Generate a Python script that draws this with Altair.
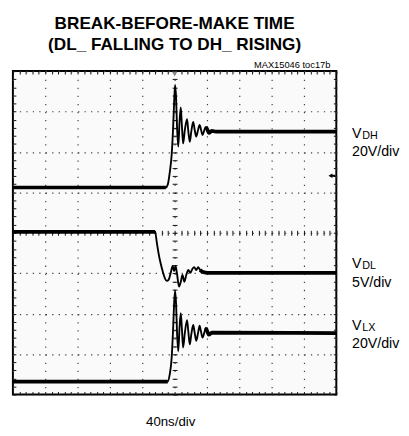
import altair as alt
import pandas as pd

# ---------------- data ----------------
title_lines = ["BREAK-BEFORE-MAKE TIME", "(DL_ FALLING TO DH_ RISING)"]
figure_tag = ["MAX15046 toc17b"]
time_scale = ["40ns/div"]

ch_main = ["V", "V", "V"]
ch_sub = ["DH", "DL", "LX"]
ch_scale = ["20V/div", "5V/div", "20V/div"]
ch_label_level = [6.35, 3.13, 1.60]   # divisions

trigger_time = [200]      # ns
trigger_level = [5.41]    # divisions

# time in ns (40 ns/div, 10 div), level in screen divisions (8 div)
vdh_t = [0, 189.1, 191.5, 193.9, 196.4, 198.2, 199.4, 200.6, 201.8, 203.0,
         204.5, 206.1, 207.6, 209.1, 210.5, 212.7, 215.4, 217.0, 218.8, 220.6,
         223.0, 224.8, 226.7, 229.1, 230.9, 232.7, 234.5, 237.0, 238.8, 240.6,
         242.4, 246.1, 250.9, 400]
vdh_v = [5.12, 5.12, 5.19, 5.48, 5.94, 6.62, 7.22, 7.66, 7.35, 6.62,
         6.13, 6.74, 7.10, 6.62, 6.21, 6.55, 6.81, 6.50, 6.25, 6.50,
         6.74, 6.55, 6.38, 6.55, 6.67, 6.55, 6.42, 6.55, 6.62, 6.55,
         6.47, 6.52, 6.50, 6.50]

vdl_t = [0, 175.8, 178.2, 180.6, 183.0, 185.5, 187.9, 190.3, 192.7, 195.2,
         197.6, 199.4, 201.2, 203.0, 205.5, 207.9, 209.7, 212.1, 214.5, 217.0,
         219.4, 221.8, 224.2, 226.7, 229.1, 231.5, 235.2, 241.2, 400]
vdl_v = [4.02, 4.02, 3.73, 3.44, 3.22, 3.03, 2.88, 2.81, 2.84, 3.01,
         3.18, 3.05, 3.18, 2.98, 2.67, 2.81, 2.96, 2.79, 2.96, 3.08,
         3.01, 3.10, 3.15, 3.08, 3.15, 3.08, 3.03, 3.01, 3.01]

vlx_t = [0, 191.5, 193.9, 196.4, 198.2, 199.4, 200.6, 201.8, 203.0, 204.5,
         206.1, 207.6, 209.1, 210.5, 212.7, 215.4, 217.0, 218.8, 220.6, 223.0,
         224.8, 226.7, 229.1, 230.9, 232.7, 234.5, 237.0, 238.8, 240.6, 242.4,
         246.1, 400]
vlx_v = [0.32, 0.32, 0.49, 0.92, 1.65, 2.25, 2.57, 2.25, 1.53, 1.07,
         1.65, 2.01, 1.60, 1.16, 1.53, 1.84, 1.55, 1.24, 1.48, 1.72,
         1.53, 1.33, 1.53, 1.70, 1.55, 1.41, 1.55, 1.65, 1.55, 1.48,
         1.53, 1.52]

# where each trace leaves its flat (noisy) level and where it settles again
edge_start = [189.1, 175.8, 191.5]
settle_start = [238.8, 231.5, 238.8]


def trace_df(t, v, name, t0, t1):
    seg = ["pre" if x <= t0 else ("post" if x >= t1 else "edge") for x in t]
    return pd.DataFrame({"t": t, "v": v, "ch": name, "i": list(range(len(t))),
                         "seg": seg})


dh = trace_df(vdh_t, vdh_v, "VDH", edge_start[0], settle_start[0])
dl = trace_df(vdl_t, vdl_v, "VDL", edge_start[1], settle_start[1])
lx = trace_df(vlx_t, vlx_v, "VLX", edge_start[2], settle_start[2])
flat = pd.concat([dh, dl, lx])
flat = flat[flat["seg"] != "edge"]

labels = pd.DataFrame({"main": ch_main, "sub": ch_sub, "scale": ch_scale,
                       "lvl": ch_label_level})

# ---------------- scales / axes ----------------
W, H = 330, 330
xs = alt.Scale(domain=[0, 400], nice=False, zero=False)
ys = alt.Scale(domain=[0, 8], nice=False, zero=False)

major_t = list(range(0, 401, 40))
major_v = list(range(0, 9))
minor_t = list(range(0, 401, 8))
minor_v = [round(k * 0.2, 1) for k in range(41)]

GRID = "#444"


def grid_axis(values, dash):
    return alt.Axis(values=values, grid=True, gridDash=dash, gridColor=GRID,
                    gridWidth=1.2, ticks=False, labels=False, domain=False)


def tick_axis(orient, values, size, offset):
    return alt.Axis(orient=orient, values=values, grid=False, ticks=True,
                    tickSize=size, tickColor="#111", tickWidth=1,
                    offset=offset, labels=False, domain=False)


LINE = dict(color="#000", strokeWidth=1.9, interpolate="monotone")

l_dh = alt.Chart(dh).mark_line(**LINE).encode(
    x=alt.X("t:Q", scale=xs, title=None, axis=grid_axis(major_t, [1.3, 6.95])),
    y=alt.Y("v:Q", scale=ys, title=None, axis=grid_axis(major_v, [1.3, 5.3])),
    order="i:Q",
)
l_dl = alt.Chart(dl).mark_line(**LINE).encode(
    x=alt.X("t:Q", scale=xs, title=None, axis=tick_axis("bottom", minor_t, 3, -3)),
    y=alt.Y("v:Q", scale=ys, title=None, axis=tick_axis("left", minor_v, 3, -3)),
    order="i:Q",
)
l_lx = alt.Chart(lx).mark_line(**LINE).encode(
    x=alt.X("t:Q", scale=xs, title=None, axis=tick_axis("top", minor_t, 3, -3)),
    y=alt.Y("v:Q", scale=ys, title=None, axis=tick_axis("right", minor_v, 3, -3)),
    order="i:Q",
)
l_flat = alt.Chart(flat).mark_line(color="#000", strokeWidth=3.8,
                                   interpolate="monotone").encode(
    x=alt.X("t:Q", scale=xs, title=None,
            axis=tick_axis("bottom", minor_t, 5, -(H / 2 + 2.5))),
    y=alt.Y("v:Q", scale=ys, title=None,
            axis=tick_axis("left", minor_v, 5, -(W / 2 + 2.5))),
    detail="key:N",
    order="i:Q",
).transform_calculate(key="datum.ch + datum.seg")

trig = alt.Chart(pd.DataFrame({"t": trigger_time})).mark_point(
    shape="triangle-down", filled=True, color="#888", size=30, opacity=1
).encode(x=alt.X("t:Q", scale=xs, axis=None), y=alt.value(3))

lvl_df = pd.DataFrame({"lvl": trigger_level})
arrow_head = alt.Chart(lvl_df).mark_point(
    shape="triangle-left", filled=True, color="#000", size=22, opacity=1
).encode(x=alt.value(W - 6), y=alt.Y("lvl:Q", scale=ys, axis=None))
arrow_stem = alt.Chart(lvl_df).mark_rule(color="#000", strokeWidth=2).encode(
    x=alt.value(W - 6), x2=alt.value(W - 1), y=alt.Y("lvl:Q", scale=ys, axis=None))

TXT = dict(font="Liberation Sans", color="#000", align="left", baseline="alphabetic")
lab_main = alt.Chart(labels).mark_text(fontSize=14.5, **TXT).encode(
    x=alt.value(W + 16), y=alt.Y("lvl:Q", scale=ys, axis=None), text="main:N")
lab_sub = alt.Chart(labels).mark_text(fontSize=11, dx=10.5, dy=1.5, **TXT).encode(
    x=alt.value(W + 16), y=alt.Y("lvl:Q", scale=ys, axis=None), text="sub:N")
lab_scale = alt.Chart(labels).mark_text(fontSize=14.5, dy=19, **TXT).encode(
    x=alt.value(W + 16), y=alt.Y("lvl:Q", scale=ys, axis=None), text="scale:N")

TITLE = dict(font="Liberation Sans", fontWeight="bold", fontSize=17.5,
             align="center", baseline="alphabetic", color="#000")
title1 = alt.Chart(pd.DataFrame({"txt": title_lines[:1]})).mark_text(**TITLE).encode(
    x=alt.value(W / 2), y=alt.value(-43), text="txt:N")
title2 = alt.Chart(pd.DataFrame({"txt": title_lines[1:]})).mark_text(**TITLE).encode(
    x=alt.value(W / 2), y=alt.value(-21), text="txt:N")
tag_mark = alt.Chart(pd.DataFrame({"txt": figure_tag})).mark_text(
    font="Liberation Sans", fontSize=9.5, align="right", baseline="alphabetic",
    color="#000"
).encode(x=alt.value(W - 6), y=alt.value(-3), text="txt:N")
time_mark = alt.Chart(pd.DataFrame({"txt": time_scale})).mark_text(
    font="Liberation Sans", fontSize=13.5, align="center", baseline="alphabetic",
    color="#000"
).encode(x=alt.value(161), y=alt.value(H + 32), text="txt:N")

chart = alt.layer(
    l_dh, l_dl, l_lx, l_flat, trig, arrow_stem, arrow_head,
    lab_main, lab_sub, lab_scale, title1, title2, tag_mark, time_mark,
).resolve_scale(
    x="shared", y="shared"
).resolve_axis(
    x="independent", y="independent"
).properties(
    width=W, height=H,
    autosize=alt.AutoSizeParams(type="none"),
    padding={"left": 5, "top": 60, "right": 66, "bottom": 38},
).configure_view(stroke="#000", strokeWidth=2, fill="#fafafa")

chart.save("out.html", embed_options={"renderer": "svg", "actions": False})
